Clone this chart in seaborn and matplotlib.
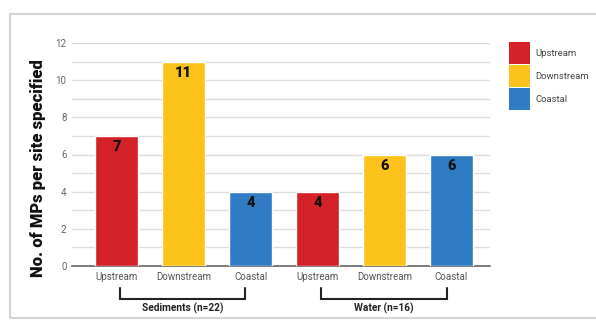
import matplotlib
matplotlib.use("Agg")
import matplotlib.pyplot as plt
import seaborn as sns
import pandas as pd
from matplotlib.patches import Rectangle, Patch

# Data
sites = ["Upstream", "Downstream", "Coastal", "Upstream", "Downstream", "Coastal"]
matrices = ["Sediments", "Sediments", "Sediments", "Water", "Water", "Water"]
counts = [7, 11, 4, 4, 6, 6]
group_labels = ["Sediments (n=22)", "Water (n=16)"]
yticks = [0, 2, 4, 6, 8, 10, 12]

colors = {"Upstream": "#D42027", "Downstream": "#FBC31B", "Coastal": "#2F7CC4"}

keys = [f"{m}-{s}" for m, s in zip(matrices, sites)]
df = pd.DataFrame({"key": keys, "site": sites, "count": counts})

sns.set_theme(style="white")
plt.rcParams["font.family"] = ["Roboto", "DejaVu Sans"]

fig = plt.figure(figsize=(5.96, 3.2), dpi=100)
ax = fig.add_axes([72/596, 1-266/320, (490-72)/596, (266-43)/320])

sns.barplot(data=df, x="key", y="count", hue="site", order=keys,
            palette=colors, dodge=False, width=0.64, ax=ax, legend=False,
            saturation=1, zorder=3)

ax.set_ylim(0, 12)
ax.set_xlim(-0.67, 5.58)
ax.set_yticks(yticks)
ax.set_yticklabels([str(t) for t in yticks], fontsize=7, color="#666666")
ax.set_yticks(range(1, 12, 2), minor=True)
ax.set_xticks(range(len(keys)))
ax.set_xticklabels(sites, fontsize=7, color="#555555")
ax.tick_params(axis="both", length=0, pad=4)
ax.tick_params(axis="y", which="minor", length=0)
ax.grid(axis="y", which="both", color="#dcdcdc", linewidth=1, zorder=0)
ax.set_axisbelow(True)
for s in ["top", "right", "left"]:
    ax.spines[s].set_visible(False)
ax.spines["bottom"].set_color("#666666")
ax.spines["bottom"].set_linewidth(1.2)
ax.set_xlabel("")
ax.set_ylabel("No. of MPs per site specified", fontsize=12, fontweight="black",
              color="#111111")
ax.yaxis.set_label_coords(-0.062, 0.44)

# value labels
for i, v in enumerate(counts):
    ax.text(i, v - 0.62, str(v), ha="center", va="center", fontsize=10.5,
            fontweight="black", color="#111111", zorder=5)

# group brackets
trans = ax.get_xaxis_transform()
for (x0, x1), lab in zip([(0.05, 1.92), (3.06, 4.93)], group_labels):
    ax.plot([x0, x0, x1, x1], [-0.098, -0.148, -0.148, -0.098], color="#222222",
            lw=1.5, transform=trans, clip_on=False, solid_joinstyle="miter")
    ax.text((x0 + x1) / 2, -0.19, lab, transform=trans, ha="center", va="center",
            fontsize=7.3, fontweight="bold", color="#222222")

# legend
handles = [Patch(facecolor=colors[s], edgecolor="none", label=s)
           for s in ["Upstream", "Downstream", "Coastal"]]
leg = fig.legend(handles=handles, loc="upper left", bbox_to_anchor=(509/596, 1-42/320),
                 frameon=False, fontsize=6.8, handlelength=2.25, handleheight=3.2,
                 labelspacing=0.1, handletextpad=0.55, borderpad=0, borderaxespad=0)
for t in leg.get_texts():
    t.set_color("#444444")

# outer frame
fig.patches.append(Rectangle((10/596, 2/320), 1.0, (318-13)/320 - 0.003,
                             transform=fig.transFigure, fill=False,
                             edgecolor="#d4d4d4", lw=1.5))

fig.savefig("out.png", dpi=100)
